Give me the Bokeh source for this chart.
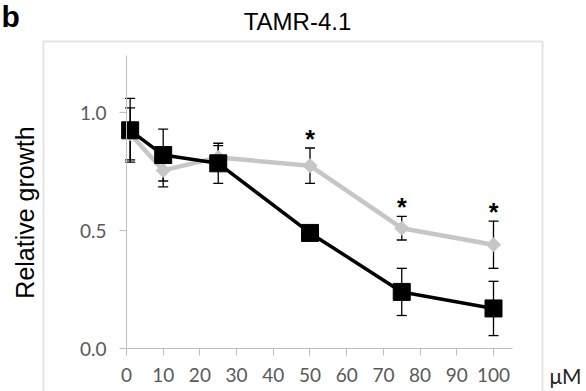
import math
from bokeh.plotting import figure
from bokeh.models import (Range1d, FixedTicker, Whisker, ColumnDataSource, Label,
                          BoxAnnotation, TeeHead, NumeralTickFormatter)
from bokeh.core.properties import value
from bokeh.embed import file_html
from bokeh.resources import INLINE

# ---- data ----
conc = [1, 10, 25, 50, 75, 100]
black_mean = [0.925, 0.82, 0.785, 0.49, 0.24, 0.17]
black_sd = [0.135, 0.11, 0.085, 0.02, 0.10, 0.115]
grey_mean = [0.91, 0.755, 0.81, 0.775, 0.51, 0.44]
grey_sd = [0.11, 0.07, 0.05, 0.075, 0.05, 0.10]
significant = [False, False, False, True, True, True]
x_ticks = [0, 10, 20, 30, 40, 50, 60, 70, 80, 90, 100]
y_ticks = [0.0, 0.5, 1.0]
x_axis_bounds = (0, 105.2)
y_axis_bounds = (0, 1.24)
title_text = "TAMR-4.1"
panel_text = "b"
y_label = "Relative growth"
x_unit = "μM"

GREY = "#c6c6c6"
AXIS = "#bfbfbf"
TICKTXT = "#595959"

black_src = ColumnDataSource(dict(x=conc, y=black_mean,
                                  upper=[m + s for m, s in zip(black_mean, black_sd)],
                                  lower=[m - s for m, s in zip(black_mean, black_sd)]))
grey_src = ColumnDataSource(dict(x=conc, y=grey_mean,
                                 upper=[m + s for m, s in zip(grey_mean, grey_sd)],
                                 lower=[m - s for m, s in zip(grey_mean, grey_sd)]))

# the data frame spans the whole canvas; the axes sit at fixed locations inside it
p = figure(width=586, height=391, x_range=Range1d(-34.33, 125.34),
           y_range=Range1d(-0.182, 1.475), output_backend="svg", toolbar_location=None,
           min_border=0)
p.title.visible = False
p.outline_line_color = None
p.grid.visible = False
p.background_fill_color = "white"
p.border_fill_color = "white"

for ax in (p.xaxis[0], p.yaxis[0]):
    ax.fixed_location = 0
    ax.axis_line_color = AXIS
    ax.axis_line_width = 1
    ax.major_tick_line_color = AXIS
    ax.major_tick_out = 7
    ax.major_tick_in = 0
    ax.minor_tick_line_color = None
    ax.major_label_text_font = "Lato"
    ax.major_label_text_font_size = "19px"
    ax.major_label_text_color = TICKTXT

p.xaxis.ticker = FixedTicker(ticks=x_ticks)
p.xaxis.bounds = x_axis_bounds
p.xaxis.major_label_standoff = 12
p.yaxis.ticker = FixedTicker(ticks=y_ticks)
p.yaxis.bounds = y_axis_bounds
p.yaxis.formatter = NumeralTickFormatter(format="0.0")
p.yaxis.major_label_standoff = 13

# outer chart box (its bottom edge lies below the picture)
p.add_layout(BoxAnnotation(left=43, right=542, top=41, bottom=500,
                           left_units="canvas", right_units="canvas",
                           top_units="canvas", bottom_units="canvas",
                           fill_alpha=0, line_color="#a6a6a6", line_width=2, level="underlay"))

def whisk(src):
    return Whisker(base="x", upper="upper", lower="lower", source=src,
                   line_color="black", line_width=1.3, level="underlay",
                   upper_head=TeeHead(size=10, line_color="black", line_width=1.3),
                   lower_head=TeeHead(size=10, line_color="black", line_width=1.3))

p.add_layout(whisk(grey_src))
p.add_layout(whisk(black_src))

p.line("x", "y", source=grey_src, line_color=GREY, line_width=4.5)
p.scatter("x", "y", source=grey_src, marker="square", angle=math.pi / 4, size=10,
          fill_color=GREY, line_color=GREY)
p.line("x", "y", source=black_src, line_color="black", line_width=3.5)
p.scatter("x", "y", source=black_src, marker="square", size=17,
          fill_color="black", line_color="black")

sig_x = [x for x, s in zip(conc, significant) if s]
sig_y = [m + sd + 0.04 for m, sd, s in zip(grey_mean, grey_sd, significant) if s]
p.text(x=sig_x, y=sig_y, text=["*"] * len(sig_x), text_font=value("Liberation Sans"),
       text_font_size="25px", text_font_style="bold", text_align="center",
       text_baseline="alphabetic", text_color="black")

def canvas_label(x, y, text, **kw):
    p.add_layout(Label(x=x, y=y, x_units="canvas", y_units="canvas", text=text, **kw))

canvas_label(297, 21, title_text, text_font="Liberation Sans", text_font_size="24px",
             text_align="center", text_baseline="alphabetic", text_color="black")
canvas_label(1, 16, panel_text, text_font="Liberation Sans", text_font_size="30px",
             text_font_style="bold", text_align="left", text_baseline="alphabetic",
             text_color="black")
canvas_label(24.5, 212, y_label, angle=math.pi / 2, text_font="Liberation Sans",
             text_font_size="25px", text_align="center", text_baseline="alphabetic",
             text_color="black")
canvas_label(565, 375, x_unit, text_font="Lato", text_font_size="21px",
             text_align="center", text_baseline="alphabetic", text_color="#262626")

open("out.html", "w").write(file_html(p, INLINE))
